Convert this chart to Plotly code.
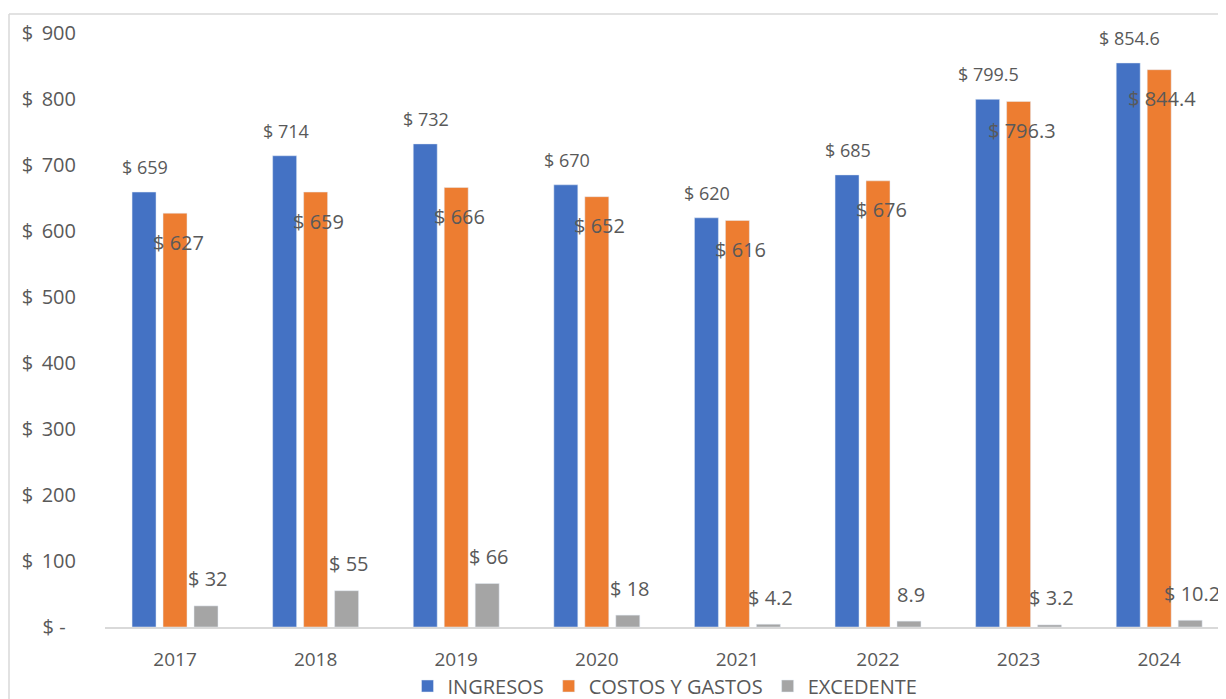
import plotly.graph_objects as go

years = ["2017", "2018", "2019", "2020", "2021", "2022", "2023", "2024"]
ingresos = [659, 714, 732, 670, 620, 685, 799.5, 854.6]
costos = [627, 659, 666, 652, 616, 676, 796.3, 844.4]
excedente = [32, 55, 66, 18, 4.2, 8.9, 3.2, 10.2]

ingresos_lbl = ["$ 659", "$ 714", "$ 732", "$ 670", "$ 620", "$ 685", "$ 799.5", "$ 854.6"]
costos_lbl = ["$ 627", "$ 659", "$ 666", "$ 652", "$ 616", "$ 676", "$ 796.3", "$ 844.4"]
excedente_lbl = ["$ 32", "$ 55", "$ 66", "$ 18", "$ 4.2", "8.9", "$ 3.2", "$ 10.2"]

y_ticks = [0, 100, 200, 300, 400, 500, 600, 700, 800, 900]
y_tick_text = ["$ -\u00a0\u00a0", "$\u2009 100", "$\u2009 200", "$\u2009 300", "$\u2009 400",
               "$\u2009 500", "$\u2009 600", "$\u2009 700", "$\u2009 800", "$\u2009 900"]

BLUE = "#4472C4"
ORANGE = "#ED7D31"
GRAY = "#A5A5A5"
TXT = "#595959"
FONT = "Open Sans"

fig = go.Figure()
fig.add_trace(go.Bar(name="INGRESOS", x=years, y=ingresos, marker_color=BLUE))
fig.add_trace(go.Bar(name="COSTOS Y GASTOS", x=years, y=costos, marker_color=ORANGE))
fig.add_trace(go.Bar(name="EXCEDENTE", x=years, y=excedente, marker_color=GRAY))

ann = []
for i in range(len(years)):
    ann.append(dict(x=i, y=ingresos[i], text=ingresos_lbl[i], showarrow=False,
                    xref="x", yref="y", xshift=-30, yshift=25,
                    font=dict(family=FONT, size=18, color=TXT)))
    ann.append(dict(x=i, y=costos[i], text=costos_lbl[i], showarrow=False,
                    xref="x", yref="y", xshift=3, yshift=-29,
                    font=dict(family=FONT, size=20, color=TXT)))
    ann.append(dict(x=i, y=excedente[i], text=excedente_lbl[i], showarrow=False,
                    xref="x", yref="y", xshift=33, yshift=27,
                    font=dict(family=FONT, size=20, color=TXT)))

# page offset of the figure (default body margin)
OFF = 8
W, H = 1226 - OFF, 699 - OFF
L, R, T, B = 97, 1, 25, 72
PW, PH = W - L - R, H - T - B

def px_x(page_x):
    return (page_x - OFF - L) / PW

def px_y(page_y):
    return (H - B - (page_y - OFF)) / PH

shapes = [
    dict(type="line", xref="paper", yref="paper", x0=px_x(9), x1=px_x(1230),
         y0=px_y(14), y1=px_y(14), line=dict(color="#d9d9d9", width=1.5)),
    dict(type="line", xref="paper", yref="paper", x0=px_x(9), x1=px_x(9),
         y0=px_y(14), y1=px_y(705), line=dict(color="#d9d9d9", width=1.5)),
]

fig.update_layout(
    width=W, height=H,
    margin=dict(l=L, r=R, t=T, b=B, autoexpand=False),
    paper_bgcolor="white", plot_bgcolor="white",
    barmode="group", bargap=0.339, bargroupgap=0.226,
    font=dict(family=FONT, color=TXT, size=18),
    annotations=ann,
    shapes=shapes,
    showlegend=True,
    legend=dict(orientation="h", x=0.5, xanchor="center",
                yref="container", y=(699 - 686) / H, yanchor="middle",
                font=dict(family=FONT, size=20, color=TXT), itemwidth=30,
                traceorder="normal"),
    xaxis=dict(type="category", range=[-0.498, 7.468], showline=True, linecolor="#d9d9d9",
               linewidth=1.5, showgrid=False, ticks="", ticklabelstandoff=14,
               tickfont=dict(family=FONT, size=19, color=TXT)),
    yaxis=dict(range=[0, 900], tickvals=y_ticks, ticktext=y_tick_text, showgrid=False,
               zeroline=False, showline=False, ticks="", ticklabelstandoff=28,
               tickfont=dict(family=FONT, size=20, color=TXT)),
)

fig.write_html("out.html")
